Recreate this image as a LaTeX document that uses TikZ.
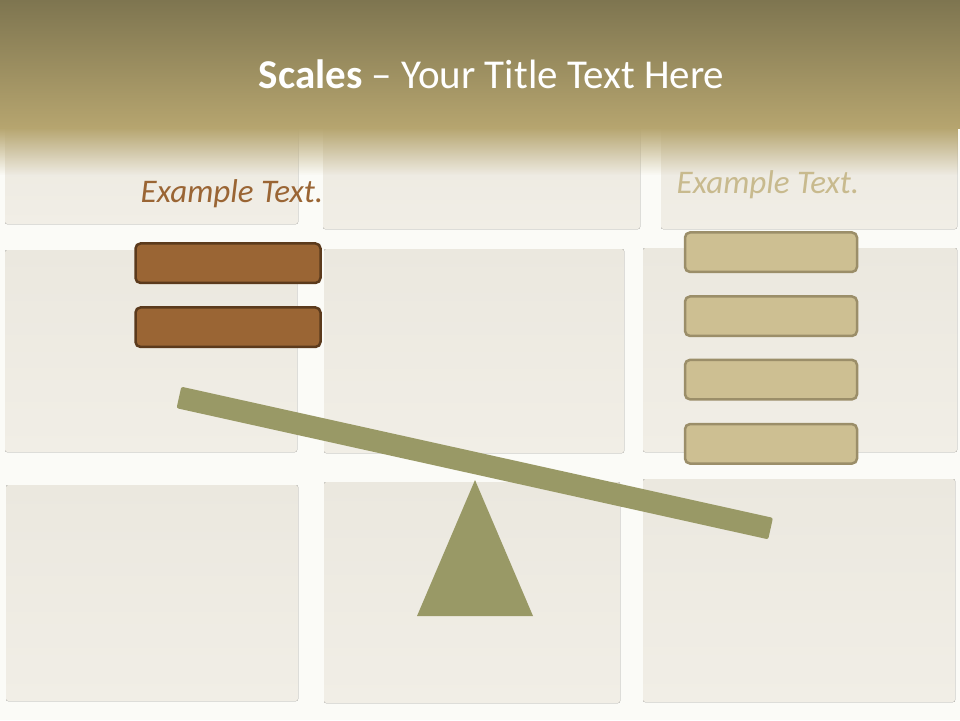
\documentclass[tikz,border=0pt]{standalone}
\usepackage{fontspec}
\setmainfont{Carlito}
\definecolor{bgWhite}{HTML}{FBFBF7}
\definecolor{hdrTop}{HTML}{7E7550}
\definecolor{hdrBot}{HTML}{B6A56F}
\definecolor{paperA}{HTML}{F1EEE6}
\definecolor{paperB}{HTML}{EBE8DF}
\definecolor{mBrown}{HTML}{9A6534}
\definecolor{mBrownDk}{HTML}{5B3A1C}
\definecolor{mSand}{HTML}{CDBF92}
\definecolor{mSandDk}{HTML}{9B8E69}
\definecolor{mOlive}{HTML}{999966}
\usetikzlibrary{fadings}

\begin{document}
\begin{tikzpicture}[x=1pt, y=-1pt,
    paper/.style={top color=paperB, bottom color=paperA, rounded corners=2pt},
    lbar/.style={draw=mBrownDk, fill=mBrown, line width=2.5pt, rounded corners=5pt,
      minimum width=185pt, minimum height=39.5pt, inner sep=0pt},
    rbar/.style={draw=mSandDk, fill=mSand, line width=2.5pt, rounded corners=5pt,
      minimum width=172pt, minimum height=39.5pt, inner sep=0pt},
    lbl/.style={font=\itshape\fontsize{33}{38}\selectfont, anchor=base}]
  \fill[bgWhite] (0,0) rectangle (960,720);
  \useasboundingbox (0,0) rectangle (960,720);
  % paper sheets, three rows
  \fill[paper] (5,110) rectangle (298,224);
  \fill[paper] (323,110) rectangle (640,229);
  \fill[paper] (661,110) rectangle (957,229);
  \fill[paper] (5,250) rectangle (297,452);
  \fill[paper] (324,249) rectangle (624,453);
  \fill[paper] (643,248) rectangle (957,452);
  \fill[paper] (6,485) rectangle (298,701);
  \fill[paper] (324,482) rectangle (620,703);
  \fill[paper] (643,479) rectangle (955,702);
  % header band
  \shade[top color=hdrTop, bottom color=hdrBot] (0,0) rectangle (960,128);
  \fill[hdrBot, path fading=south] (0,127.5) rectangle (960,175);
  \node[text=white, anchor=base, font=\fontsize{41}{48}\selectfont] (title) at (491.5,88)
    {\bfseries Scales\mdseries{} – Your Title Text Here};
  \node[lbl, text=mBrown] (ltxt) at (232,202) {Example Text.};
  \node[lbl, text=mSand!90!mSandDk] (rtxt) at (768,193) {Example Text.};
  % weights
  \node[lbar] (lbar1) at (228,263.2) {};
  \node[lbar] (lbar2) at (228,327.2) {};
  \foreach \i/\y in {1/252.2, 2/316.2, 3/379.6, 4/443.8}{
    \node[rbar] (rbar\i) at (771,\y) {};}
  % beam and pivot
  \node[fill=mOlive, rotate=-12.5, rounded corners=2pt, inner sep=0pt,
    minimum width=606pt, minimum height=22pt] (beam) at (474.75,463) {};
  \fill[mOlive] (475,480) -- (417,616) -- (533,616) -- cycle;
\end{tikzpicture}
\end{document}
